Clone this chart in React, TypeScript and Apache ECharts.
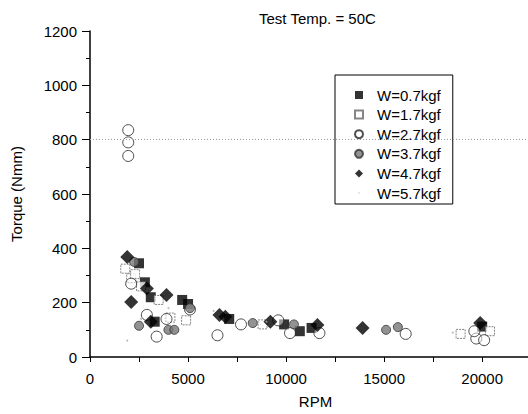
import React, { useEffect, useRef } from "react";
import * as echarts from "echarts";

const titleText = "Test Temp. = 50C";
const xName = "RPM";
const yName = "Torque (Nmm)";
const seriesNames = ["W=0.7kgf", "W=1.7kgf", "W=2.7kgf", "W=3.7kgf", "W=4.7kgf", "W=5.7kgf"];

const w07: number[][] = [
  [2500, 345], [2800, 275], [3100, 220], [4700, 210], [3300, 130], [7100, 140],
  [9900, 120], [11300, 107], [10700, 95], [20000, 112], [5000, 195],
];
const w17: number[][] = [
  [1800, 325], [2100, 290], [2300, 305], [3500, 210], [4900, 135], [4100, 145],
  [8800, 120], [18900, 85], [20400, 95], [2600, 260],
];
const w27: number[][] = [
  [1950, 835], [1950, 790], [1950, 740], [2100, 270], [2900, 155], [3400, 75],
  [6500, 80], [7700, 120], [9600, 135], [10200, 88], [11700, 88], [16100, 85],
  [19700, 68], [20100, 62], [19600, 95], [5100, 175], [3900, 140],
];
const w37: number[][] = [
  [2500, 115], [4000, 100], [4300, 100], [5100, 180], [8300, 125], [10400, 120],
  [15100, 100], [15700, 110], [2250, 350],
];
const w47: number[][] = [
  [1900, 368], [2100, 202], [2900, 252], [3900, 228], [3100, 130], [6900, 148],
  [6600, 155], [9200, 130], [11600, 118], [13900, 107], [19900, 125],
];
const w57: number[][] = [
  [1900, 60], [2600, 140], [4000, 180], [6300, 170], [9000, 130], [18500, 90],
];

const font = "'Liberation Sans', Arial, sans-serif";

export default function App() {
  const ref = useRef<HTMLDivElement>(null);
  useEffect(() => {
    if (!ref.current) return;
    document.documentElement.style.overflow = "hidden";
    document.body.style.overflow = "hidden";
    document.body.style.margin = "0";
    const chart = echarts.init(ref.current, undefined, { renderer: "svg" });
    const tinyDot = "path://M0,0M10,10M4.2,5a0.8,0.8 0 1,0 1.6,0a0.8,0.8 0 1,0 -1.6,0Z";
    chart.setOption({
      animation: false,
      backgroundColor: "#fff",
      textStyle: { fontFamily: font, color: "#000" },
      title: {
        text: titleText,
        left: 254,
        top: 6,
        textStyle: { fontSize: 15, fontWeight: "normal", color: "#000", fontFamily: font },
      },
      grid: { left: 90, top: 31, width: 451, height: 326, outerBoundsMode: "none", containLabel: false },
      legend: {
        orient: "vertical",
        left: 335,
        top: 75,
        padding: [12, 12, 3, 19],
        borderColor: "#000",
        borderWidth: 1,
        backgroundColor: "#fff",
        itemWidth: 8,
        itemHeight: 8,
        itemGap: 3.6,
        textStyle: { fontSize: 15, color: "#000", fontFamily: font, lineHeight: 16, padding: [0, 0, 0, 9] },
        data: [
          { name: seriesNames[0], icon: "rect" },
          { name: seriesNames[1], icon: "rect" },
          { name: seriesNames[2], icon: "circle" },
          { name: seriesNames[3], icon: "circle" },
          { name: seriesNames[4], icon: "diamond" },
          { name: seriesNames[5], icon: tinyDot },
        ],
      },
      xAxis: {
        type: "value",
        min: 0,
        max: 23000,
        interval: 2500,
        name: xName,
        nameLocation: "middle",
        nameGap: 37,
        nameTextStyle: { fontSize: 15, color: "#000", fontFamily: font, verticalAlign: "top" },
        axisLine: { show: true, onZero: false, lineStyle: { color: "#000", width: 1.5 } },
        axisTick: { show: true, length: 5, lineStyle: { color: "#000" } },
        axisLabel: {
          fontSize: 15,
          color: "#000",
          margin: 14,
          formatter: (v: number) => (v % 5000 === 0 && v <= 20000 ? String(v) : ""),
          showMaxLabel: false,
        },
        splitLine: { show: false },
        minorSplitLine: { show: false },
      },
      yAxis: {
        type: "value",
        min: 0,
        max: 1200,
        interval: 200,
        name: yName,
        nameLocation: "middle",
        nameGap: 66,
        nameTextStyle: { fontSize: 15, color: "#000", fontFamily: font },
        axisLine: { show: true, onZero: false, lineStyle: { color: "#000", width: 1.5 } },
        axisTick: { show: true, length: 8, lineStyle: { color: "#000" } },
        minorTick: { show: true, splitNumber: 2, length: 4, lineStyle: { color: "#000" } },
        axisLabel: { fontSize: 15, color: "#000", margin: 13, formatter: (v: number) => String(v) },
        splitLine: { show: false },
      },
      series: [
        {
          name: seriesNames[0],
          type: "scatter",
          symbol: "rect",
          symbolSize: 10,
          itemStyle: { color: "#000" },
          data: w07,
          markLine: {
            silent: true,
            symbol: "none",
            label: { show: false },
            lineStyle: { color: "#999", type: [1, 2], width: 1 },
            data: [{ yAxis: 800 }],
          },
        },
        {
          name: seriesNames[1],
          type: "scatter",
          symbol: "rect",
          symbolSize: 9,
          itemStyle: { color: "#fff", borderColor: "#666", borderWidth: 1, borderType: [2, 1] },
          data: w17,
        },
        {
          name: seriesNames[2],
          type: "scatter",
          symbol: "circle",
          symbolSize: 11,
          itemStyle: { color: "rgba(255,255,255,0.6)", borderColor: "#222", borderWidth: 1 },
          data: w27,
        },
        {
          name: seriesNames[3],
          type: "scatter",
          symbol: "circle",
          symbolSize: 9,
          itemStyle: { color: "#777", borderColor: "#333", borderWidth: 1 },
          data: w37,
        },
        {
          name: seriesNames[4],
          type: "scatter",
          symbol: "diamond",
          symbolSize: 14,
          itemStyle: { color: "#000" },
          data: w47,
        },
        {
          name: seriesNames[5],
          type: "scatter",
          symbol: "circle",
          symbolSize: 2,
          itemStyle: { color: "#aaa" },
          data: w57,
        },
      ],
    });
    return () => chart.dispose();
  }, []);
  return <div ref={ref} style={{ width: 528, height: 414, position: "absolute", left: 0, top: 0 }} />;
}
